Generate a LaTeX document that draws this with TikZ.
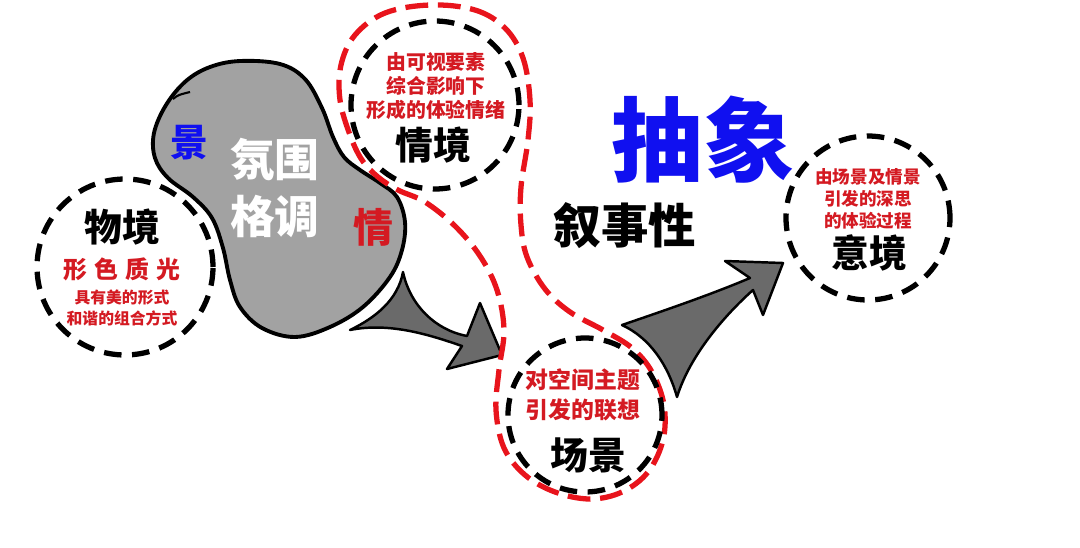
\documentclass[tikz,border=0pt]{standalone}
\usepackage{fontspec}
\newfontfamily\cjk{Noto Sans CJK SC}
\usetikzlibrary{positioning}
\definecolor{loopred}{HTML}{E8141C}
\definecolor{notered}{HTML}{D41A22}
\definecolor{inkblue}{HTML}{1010F0}
\definecolor{blobgray}{HTML}{A2A2A2}
\definecolor{arrowgray}{HTML}{6A6A6A}
\newcommand{\fs}[2]{\fontsize{#1}{#2}\selectfont}

\begin{document}
\begin{tikzpicture}[x=0.02cm,y=-0.02cm,
    ring/.style={circle,draw=black,line width=3pt,dash pattern=on 10pt off 6pt,inner sep=0pt},
    redloop/.style={draw=loopred,line width=3pt,dash pattern=on 13pt off 5.5pt},
    swoosh/.style={fill=arrowgray,draw=black,line width=1.4pt,line join=round},
    note/.style={font=\cjk\bfseries,text=notered,align=center,inner sep=0pt},
    title/.style={font=\cjk\bfseries\fs{21.5}{24},inner sep=0pt}
]
\useasboundingbox (0,0) rectangle (1080,548);
\fill[white] (0,0) rectangle (1080,548);

% grey blob
\draw[fill=blobgray,line width=2.2pt] plot[smooth cycle,tension=0.6] coordinates {
  (240,61) (280,64) (305,79) (322,108) (333,137) (344,157) (360,170) (380,183)
  (397,197) (405,222) (402,250) (390,277) (363,307) (330,327) (295,337) (262,328)
  (240,307) (230,280) (223,248) (212,218) (193,197) (168,178) (155,158) (154,133)
  (166,105) (186,81) (210,67)};
\draw[line width=1.2pt] (173,99) .. controls (178,95) .. (190,92);

% arrows
\draw[swoosh] (350,330) .. controls (375,318) and (398,300) .. (403,272)
  .. controls (410,305) and (435,330) .. (467,336)
  -- (480,303) -- (502,355) -- (447,369) -- (462,346)
  .. controls (430,335) and (390,322) .. cycle;
\draw[swoosh] (622,325) .. controls (660,312) and (710,295) .. (750,278)
  -- (725,261) -- (783,263) -- (763,315) -- (753,290)
  .. controls (725,315) and (690,355) .. (677,397)
  .. controls (668,365) and (650,338) .. cycle;

% red loop round qingjing and changjing
\draw[redloop] plot[smooth cycle,tension=0.6] coordinates {
  (430,5) (475,10) (505,28) (523,58) (530,100) (528,140) (521,187) (521,225)
  (527,257) (545,289) (570,312) (603,330) (632,348) (652,372) (664,405) (663,440)
  (648,472) (622,492) (590,499) (555,492) (525,475) (504,448) (496,410) (499,370)
  (504,330) (497,290) (480,256) (455,226) (425,202) (398,190) (378,177) (362,160)
  (350,135) (340,100) (341,65) (355,35) (385,13)};

% dashed rings
\node[ring,minimum size=3.52cm] (wujing) at (125,267) {};
\node[ring,minimum size=3.36cm] (qingjing) at (435,105) {};
\node[ring,minimum size=3.08cm] (changjing) at (585,415) {};
\node[ring,minimum size=3.28cm] (yijing) at (868,218) {};

% wujing texts
\node[title] (wj-title) at (122,227) {物境};
\node[note,font=\cjk\bfseries\fs{13.6}{16}] (wj-key) at (122,269) {形\hspace{4pt}色\hspace{4pt}质\hspace{4pt}光};
\node[note,font=\cjk\bfseries\fs{9}{12}] (wj-note) at (122,308) {具有美的形式\\和谐的组合方式};

% blob texts
\node[font=\cjk\bfseries\fs{21.5}{24},text=inkblue,inner sep=0pt] (jing) at (189,143) {景};
\node[font=\cjk\bfseries\fs{25.5}{32.5},text=white,align=center,inner sep=0pt] (fenwei) at (275,188) {氛围\\格调};
\node[font=\cjk\bfseries\fs{22.7}{24},text=notered,inner sep=0pt] (qing) at (373,227) {情};

% qingjing texts
\node[note,font=\cjk\bfseries\fs{11.3}{13.6}] (qj-note) at (436,86) {由可视要素\\综合影响下\\形成的体验情绪};
\node[title] (qj-title) at (433,145) {情境};

% changjing texts
\node[note,font=\cjk\bfseries\fs{13}{17}] (cj-note) at (583,395) {对空间主题\\引发的联想};
\node[title] (cj-title) at (588,455) {场景};

% yijing texts
\node[note,font=\cjk\bfseries\fs{10}{12.5}] (yj-note) at (868,199) {由场景及情景\\引发的深思\\的体验过程};
\node[title] (yj-title) at (869,253) {意境};

% free labels
\node[font=\cjk\bfseries\fs{52}{56},text=inkblue,inner sep=0pt] (chouxiang) at (703,140) {抽象};
\node[font=\cjk\bfseries\fs{27}{30},inner sep=0pt] (xushi) at (625,226) {叙事性};
\end{tikzpicture}
\end{document}
